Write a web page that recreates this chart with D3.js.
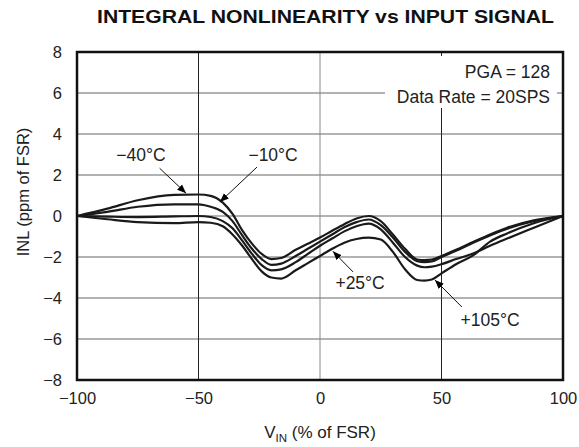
<!DOCTYPE html>
<html>
<head>
<meta charset="utf-8">
<script src="https://cdn.jsdelivr.net/npm/d3@7"></script>
<style>
  html, body { margin: 0; padding: 0; background: #fff; }
  svg { display: block; font-family: "Liberation Sans", Arial, Helvetica, sans-serif; }
</style>
</head>
<body>
<svg id="chart" width="579" height="447"></svg>
<script>
// ---- data ----
const vin = [-100, -87.5, -75, -60, -50, -45, -40, -36, -32, -28, -24, -20, -16, -10, -5, 0, 5, 10, 15, 20, 25, 30, 35, 40, 43, 46, 50, 56, 63, 70, 77, 88, 100];
const inlM40 = [0, 0.36, 0.77, 1.03, 1.05, 0.98, 0.65, 0.1, -0.7, -1.35, -1.85, -2.1, -2.05, -1.65, -1.35, -1.05, -0.72, -0.4, -0.12, 0.0, -0.25, -0.9, -1.6, -2.12, -2.15, -2.13, -1.95, -1.65, -1.27, -0.9, -0.57, -0.21, 0];
const inlM10 = [0, 0.2, 0.45, 0.57, 0.57, 0.45, 0.2, -0.25, -0.95, -1.6, -2.1, -2.38, -2.32, -1.95, -1.6, -1.25, -0.9, -0.55, -0.3, -0.17, -0.45, -1.05, -1.75, -2.2, -2.25, -2.22, -2.0, -1.7, -1.3, -0.95, -0.62, -0.25, 0];
const inlP25 = [0, -0.03, -0.05, -0.02, 0.0, -0.05, -0.25, -0.6, -1.2, -1.85, -2.4, -2.65, -2.6, -2.25, -1.85, -1.45, -1.1, -0.75, -0.5, -0.37, -0.65, -1.3, -2.0, -2.42, -2.5, -2.47, -2.35, -2.1, -1.83, -1.45, -1.1, -0.57, 0];
const inlP105 = [0, -0.16, -0.3, -0.35, -0.3, -0.33, -0.5, -0.9, -1.45, -2.1, -2.7, -3.0, -3.05, -2.65, -2.3, -1.95, -1.6, -1.3, -1.12, -1.05, -1.15, -1.75, -2.6, -3.12, -3.15, -3.1, -2.8, -2.35, -1.92, -1.25, -0.85, -0.35, 0];
const seriesNames = ["−40°C", "−10°C", "+25°C", "+105°C"];
const seriesValues = [inlM40, inlM10, inlP25, inlP105];
// annotation: label anchor [vin, inl], arrow start, arrow tip
const labelPos = [[-73.7, 2.98], [-19.3, 2.98], [16.5, -3.27], [70, -5.07]];
const arrowFrom = [[-66, 2.33], [-25.9, 2.39], [13.6, -2.73], [58.4, -4.44]];
const arrowTo = [[-55.1, 1.11], [-41.2, 0.68], [5.3, -1.72], [47.3, -3.12]];
const xTicks = [-100, -50, 0, 50, 100];
const yTicks = [-8, -6, -4, -2, 0, 2, 4, 6, 8];
const xTickLabels = ["−100", "−50", "0", "50", "100"];
const yTickLabels = ["−8", "−6", "−4", "−2", "0", "2", "4", "6", "8"];
const titleText = "INTEGRAL NONLINEARITY vs INPUT SIGNAL";
const noteLines = ["PGA = 128", "Data Rate = 20SPS"];

// ---- layout ----
const svg = d3.select("#chart");
const L = 77, R = 563, T = 52, B = 380;
const x = d3.scaleLinear().domain([-100, 100]).range([L, R]);
const y = d3.scaleLinear().domain([-8, 8]).range([B, T]);

// defs: arrow marker
svg.append("defs").append("marker")
  .attr("id", "arr").attr("viewBox", "0 0 10 10").attr("refX", 10).attr("refY", 5)
  .attr("markerWidth", 9).attr("markerHeight", 9).attr("markerUnits", "userSpaceOnUse")
  .attr("orient", "auto")
  .append("path").attr("d", "M0,1 L10,5 L0,9 Z").attr("fill", "#000");

// title
svg.append("text").attr("x", 97).attr("y", 23).attr("text-anchor", "start")
  .attr("font-size", 19).attr("font-weight", "bold").attr("fill", "#111")
  .attr("textLength", 457).attr("lengthAdjust", "spacingAndGlyphs").text(titleText);

// grid
const g = svg.append("g");
g.selectAll("line.hg").data(yTicks.filter(d => d > -8 && d < 8)).enter().append("line")
  .attr("x1", L).attr("x2", R).attr("y1", d => y(d)).attr("y2", d => y(d))
  .attr("stroke", "#666").attr("stroke-width", 1);
g.selectAll("line.vg").data(xTicks.filter(d => d > -100 && d < 100)).enter().append("line")
  .attr("y1", T).attr("y2", B).attr("x1", d => x(d)).attr("x2", d => x(d))
  .attr("stroke", d => d === 0 ? "#888" : "#222").attr("stroke-width", 1);

// note box (white background interrupts grid)
svg.append("rect").attr("x", 385).attr("y", 56).attr("width", 172).attr("height", 52).attr("fill", "#fff");
svg.append("text").attr("x", 550).attr("y", 78).attr("text-anchor", "end")
  .attr("font-size", 17.5).attr("fill", "#222").text(noteLines[0]);
svg.append("text").attr("x", 550).attr("y", 103).attr("text-anchor", "end")
  .attr("font-size", 17.5).attr("fill", "#222").text(noteLines[1]);

// curves
const line = d3.line().x((d, i) => x(vin[i])).y(d => y(d)).curve(d3.curveMonotoneX);
svg.selectAll("path.curve").data(seriesValues).enter().append("path")
  .attr("d", d => line(d)).attr("fill", "none").attr("stroke", "#1a1a1a")
  .attr("stroke-width", 2.2).attr("stroke-linejoin", "round");

// frame
svg.append("rect").attr("x", L).attr("y", T).attr("width", R - L).attr("height", B - T)
  .attr("fill", "none").attr("stroke", "#111").attr("stroke-width", 2.5);

// axes tick labels
const xAxis = d3.axisBottom(x).tickValues(xTicks).tickSize(0).tickPadding(12)
  .tickFormat((d, i) => xTickLabels[i]);
const xa = svg.append("g").attr("transform", `translate(0,${B})`).call(xAxis);
xa.select(".domain").remove();
xa.selectAll("text").attr("font-size", 16.5).attr("fill", "#222").attr("font-family", null);

const yAxis = d3.axisLeft(y).tickValues(yTicks).tickSize(0).tickPadding(15)
  .tickFormat((d, i) => yTickLabels[i]);
const ya = svg.append("g").attr("transform", `translate(${L},0)`).call(yAxis);
ya.select(".domain").remove();
ya.selectAll("text").attr("font-size", 16.5).attr("fill", "#222").attr("font-family", null);

// axis titles
const xt = svg.append("text").attr("x", (L + R) / 2).attr("y", 438).attr("text-anchor", "middle")
  .attr("font-size", 17).attr("fill", "#222");
xt.append("tspan").text("V");
xt.append("tspan").attr("font-size", 11.5).attr("dy", 4).text("IN");
xt.append("tspan").attr("dy", -4).text(" (% of FSR)");

svg.append("text").attr("transform", `translate(29,192) rotate(-90)`)
  .attr("text-anchor", "middle").attr("font-size", 16.5).attr("fill", "#222")
  .text("INL  (ppm of FSR)");

// annotations
const ann = svg.append("g");
ann.selectAll("line").data(arrowFrom).enter().append("line")
  .attr("x1", d => x(d[0])).attr("y1", d => y(d[1]))
  .attr("x2", (d, i) => x(arrowTo[i][0])).attr("y2", (d, i) => y(arrowTo[i][1]))
  .attr("stroke", "#111").attr("stroke-width", 1).attr("marker-end", "url(#arr)");
ann.selectAll("text").data(labelPos).enter().append("text")
  .attr("x", d => x(d[0])).attr("y", d => y(d[1])).attr("dy", "0.35em")
  .attr("text-anchor", "middle").attr("font-size", 17.5).attr("fill", "#222")
  .text((d, i) => seriesNames[i]);
</script>
</body>
</html>
